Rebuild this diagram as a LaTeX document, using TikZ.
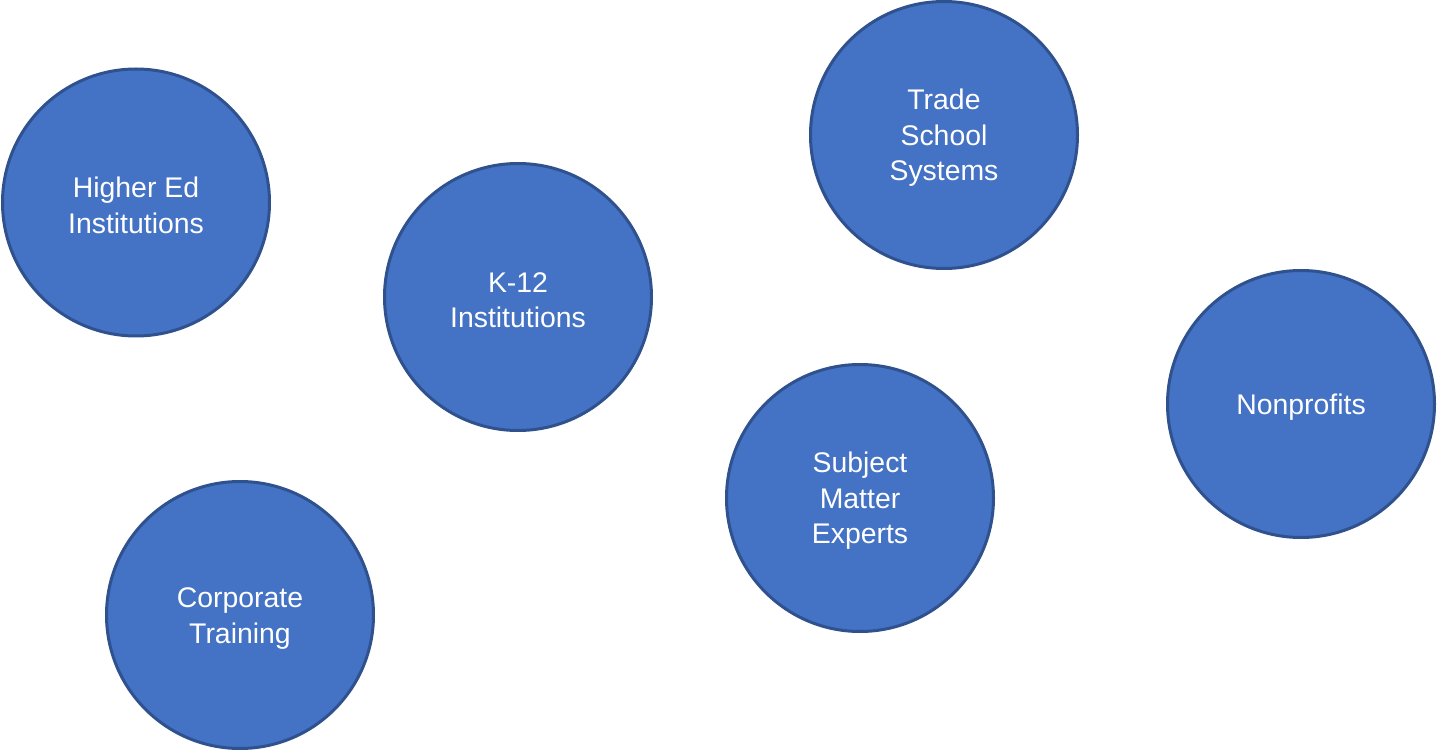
\documentclass[tikz,border=0pt]{standalone}
\usepackage{fontspec}
\setmainfont{Liberation Sans}
\usepackage{tikz}
\usepackage{xcolor}
\usetikzlibrary{positioning}
\definecolor{audFill}{RGB}{68,114,196}
\definecolor{audLine}{RGB}{47,82,143}
\newcommand{\audstrut}{\rule{0pt}{13.3pt}}
\tikzset{
  audience/.style={
    circle,
    fill=audFill,
    draw=audLine,
    line width=1.5pt,
    minimum size=133.5pt,
    inner sep=0pt,
    align=center,
    text=white,
    font=\fontsize{14.2}{17.8}\selectfont
  }
}

\begin{document}
\begin{tikzpicture}[x=0.5pt,y=0.5pt]
  \useasboundingbox (0,0) rectangle (1437,751);
  \node[audience] (hied) at (136,548.5) {\audstrut Higher Ed\\Institutions};
  \node[audience] (kschool) at (518,454) {\audstrut K-12\\Institutions};
  \node[audience] (trade) at (944,616) {\audstrut Trade\\School\\Systems};
  \node[audience] (nonprofit) at (1301,347) {\audstrut Nonprofits};
  \node[audience] (sme) at (860,253) {\audstrut Subject\\Matter\\Experts};
  \node[audience] (corp) at (240,136) {\audstrut Corporate\\Training};
\end{tikzpicture}
\end{document}
